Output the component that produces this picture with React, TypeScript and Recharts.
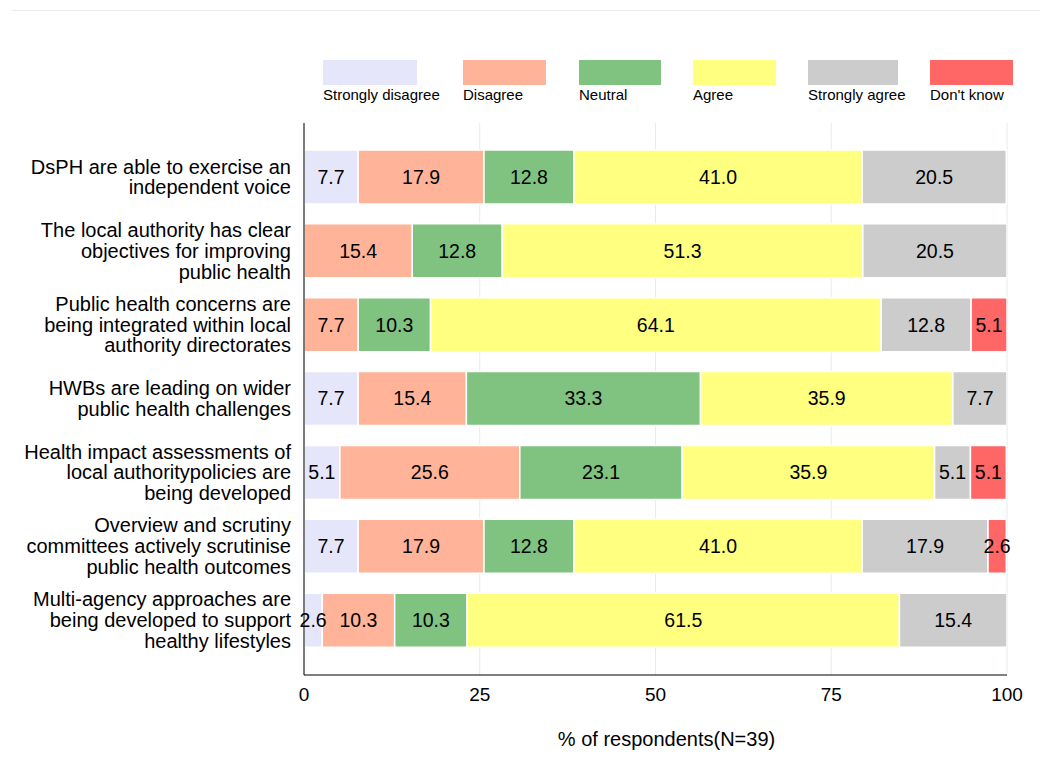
import { BarChart, Bar, XAxis, YAxis, CartesianGrid, LabelList } from 'recharts'

// statement labels, pre-split into the lines shown on the axis
const statementLines = [
  ['DsPH are able to exercise an', 'independent voice'],
  ['The local authority has clear', 'objectives for improving', 'public health'],
  ['Public health concerns are', 'being integrated within local', 'authority directorates'],
  ['HWBs are leading on wider', 'public health challenges'],
  ['Health impact assessments of', 'local authoritypolicies are', 'being developed'],
  ['Overview and scrutiny', 'committees actively scrutinise', 'public health outcomes'],
  ['Multi-agency approaches are', 'being developed to support', 'healthy lifestyles'],
]

const stronglyDisagree = [7.7, 0, 0, 7.7, 5.1, 7.7, 2.6]
const disagree = [17.9, 15.4, 7.7, 15.4, 25.6, 17.9, 10.3]
const neutral = [12.8, 12.8, 10.3, 33.3, 23.1, 12.8, 10.3]
const agree = [41.0, 51.3, 64.1, 35.9, 35.9, 41.0, 61.5]
const stronglyAgree = [20.5, 20.5, 12.8, 7.7, 5.1, 17.9, 15.4]
const dontKnow = [0, 0, 5.1, 0, 5.1, 2.6, 0]

const xTicks = [0, 25, 50, 75, 100]

const series = [
  { key: 'sd', name: 'Strongly disagree', color: '#e6e6fa', values: stronglyDisagree },
  { key: 'd', name: 'Disagree', color: '#ffb499', values: disagree },
  { key: 'n', name: 'Neutral', color: '#80c280', values: neutral },
  { key: 'a', name: 'Agree', color: '#ffff80', values: agree },
  { key: 'sa', name: 'Strongly agree', color: '#cccccc', values: stronglyAgree },
  { key: 'dk', name: "Don't know", color: '#ff6666', values: dontKnow },
]

const data = statementLines.map((lines, i) => {
  const row: any = { name: lines.join(' ') }
  series.forEach((s) => {
    row[s.key] = s.values[i]
  })
  return row
})

// legend layout (box width / slot width per entry)
const legendBoxWidths = [94, 83, 82, 83, 90, 83]
const legendSlotWidths = [140, 116, 114, 115, 122, 83]

function StatementTick({ x, y, payload }: any) {
  const idx = data.findIndex((d) => d.name === payload.value)
  const lines = statementLines[idx] || [payload.value]
  const lh = 20.8
  const tx = x - 5
  return (
    <text x={tx} y={y} textAnchor="end" fontSize={20} fill="#000">
      {lines.map((l, i) => (
        <tspan key={i} x={tx} dy={i === 0 ? -((lines.length - 1) / 2) * lh + 7 : lh}>
          {l}
        </tspan>
      ))}
    </text>
  )
}

const fmt = (v: any) => (v ? Number(v).toFixed(1) : '')

export default function App() {
  return (
    <div
      style={{
        position: 'relative',
        width: 1040,
        height: 760,
        fontFamily: '"Liberation Sans", Arial, sans-serif',
      }}
    >
      <div
        style={{
          position: 'absolute',
          top: 2,
          left: 4,
          width: 1036,
          borderTop: '1px solid #e6eceb',
        }}
      />
      <div style={{ position: 'absolute', top: 52, left: 315, display: 'flex' }}>
        {series.map((s, i) => (
          <div key={s.key} style={{ width: legendSlotWidths[i], flex: 'none' }}>
            <div style={{ width: legendBoxWidths[i], height: 25, background: s.color }} />
            <div style={{ fontSize: 15, color: '#000', whiteSpace: 'nowrap', marginTop: 1 }}>{s.name}</div>
          </div>
        ))}
      </div>
      <BarChart
        width={1040}
        height={760}
        data={data}
        layout="vertical"
        margin={{ top: 115, right: 41, bottom: 23, left: 0 }}
        barSize={54}
      >
        <CartesianGrid horizontal={false} stroke="#e3ecef" />
        <XAxis
          type="number"
          domain={[0, 100]}
          ticks={xTicks}
          allowDataOverflow
          tickLine={false}
          axisLine={{ stroke: '#000' }}
          tick={{ fontSize: 19, fill: '#000' }}
          tickMargin={7}
          height={70}
          label={{
            value: '% of respondents(N=39)',
            position: 'insideBottom',
            offset: -1,
            dx: 11,
            fontSize: 20,
            fill: '#000',
          }}
        />
        <YAxis
          type="category"
          dataKey="name"
          width={296}
          tickLine={false}
          axisLine={{ stroke: '#000' }}
          tick={<StatementTick />}
          padding={{ top: 17, bottom: 18 }}
          interval={0}
        />
        {series.map((s) => (
          <Bar
            key={s.key}
            dataKey={s.key}
            name={s.name}
            stackId="all"
            fill={s.color}
            stroke="#fff"
            strokeWidth={1.5}
            isAnimationActive={false}
          >
            <LabelList dataKey={s.key} position="center" fill="#000" fontSize={19.5} formatter={fmt} />
          </Bar>
        ))}
      </BarChart>
    </div>
  )
}
